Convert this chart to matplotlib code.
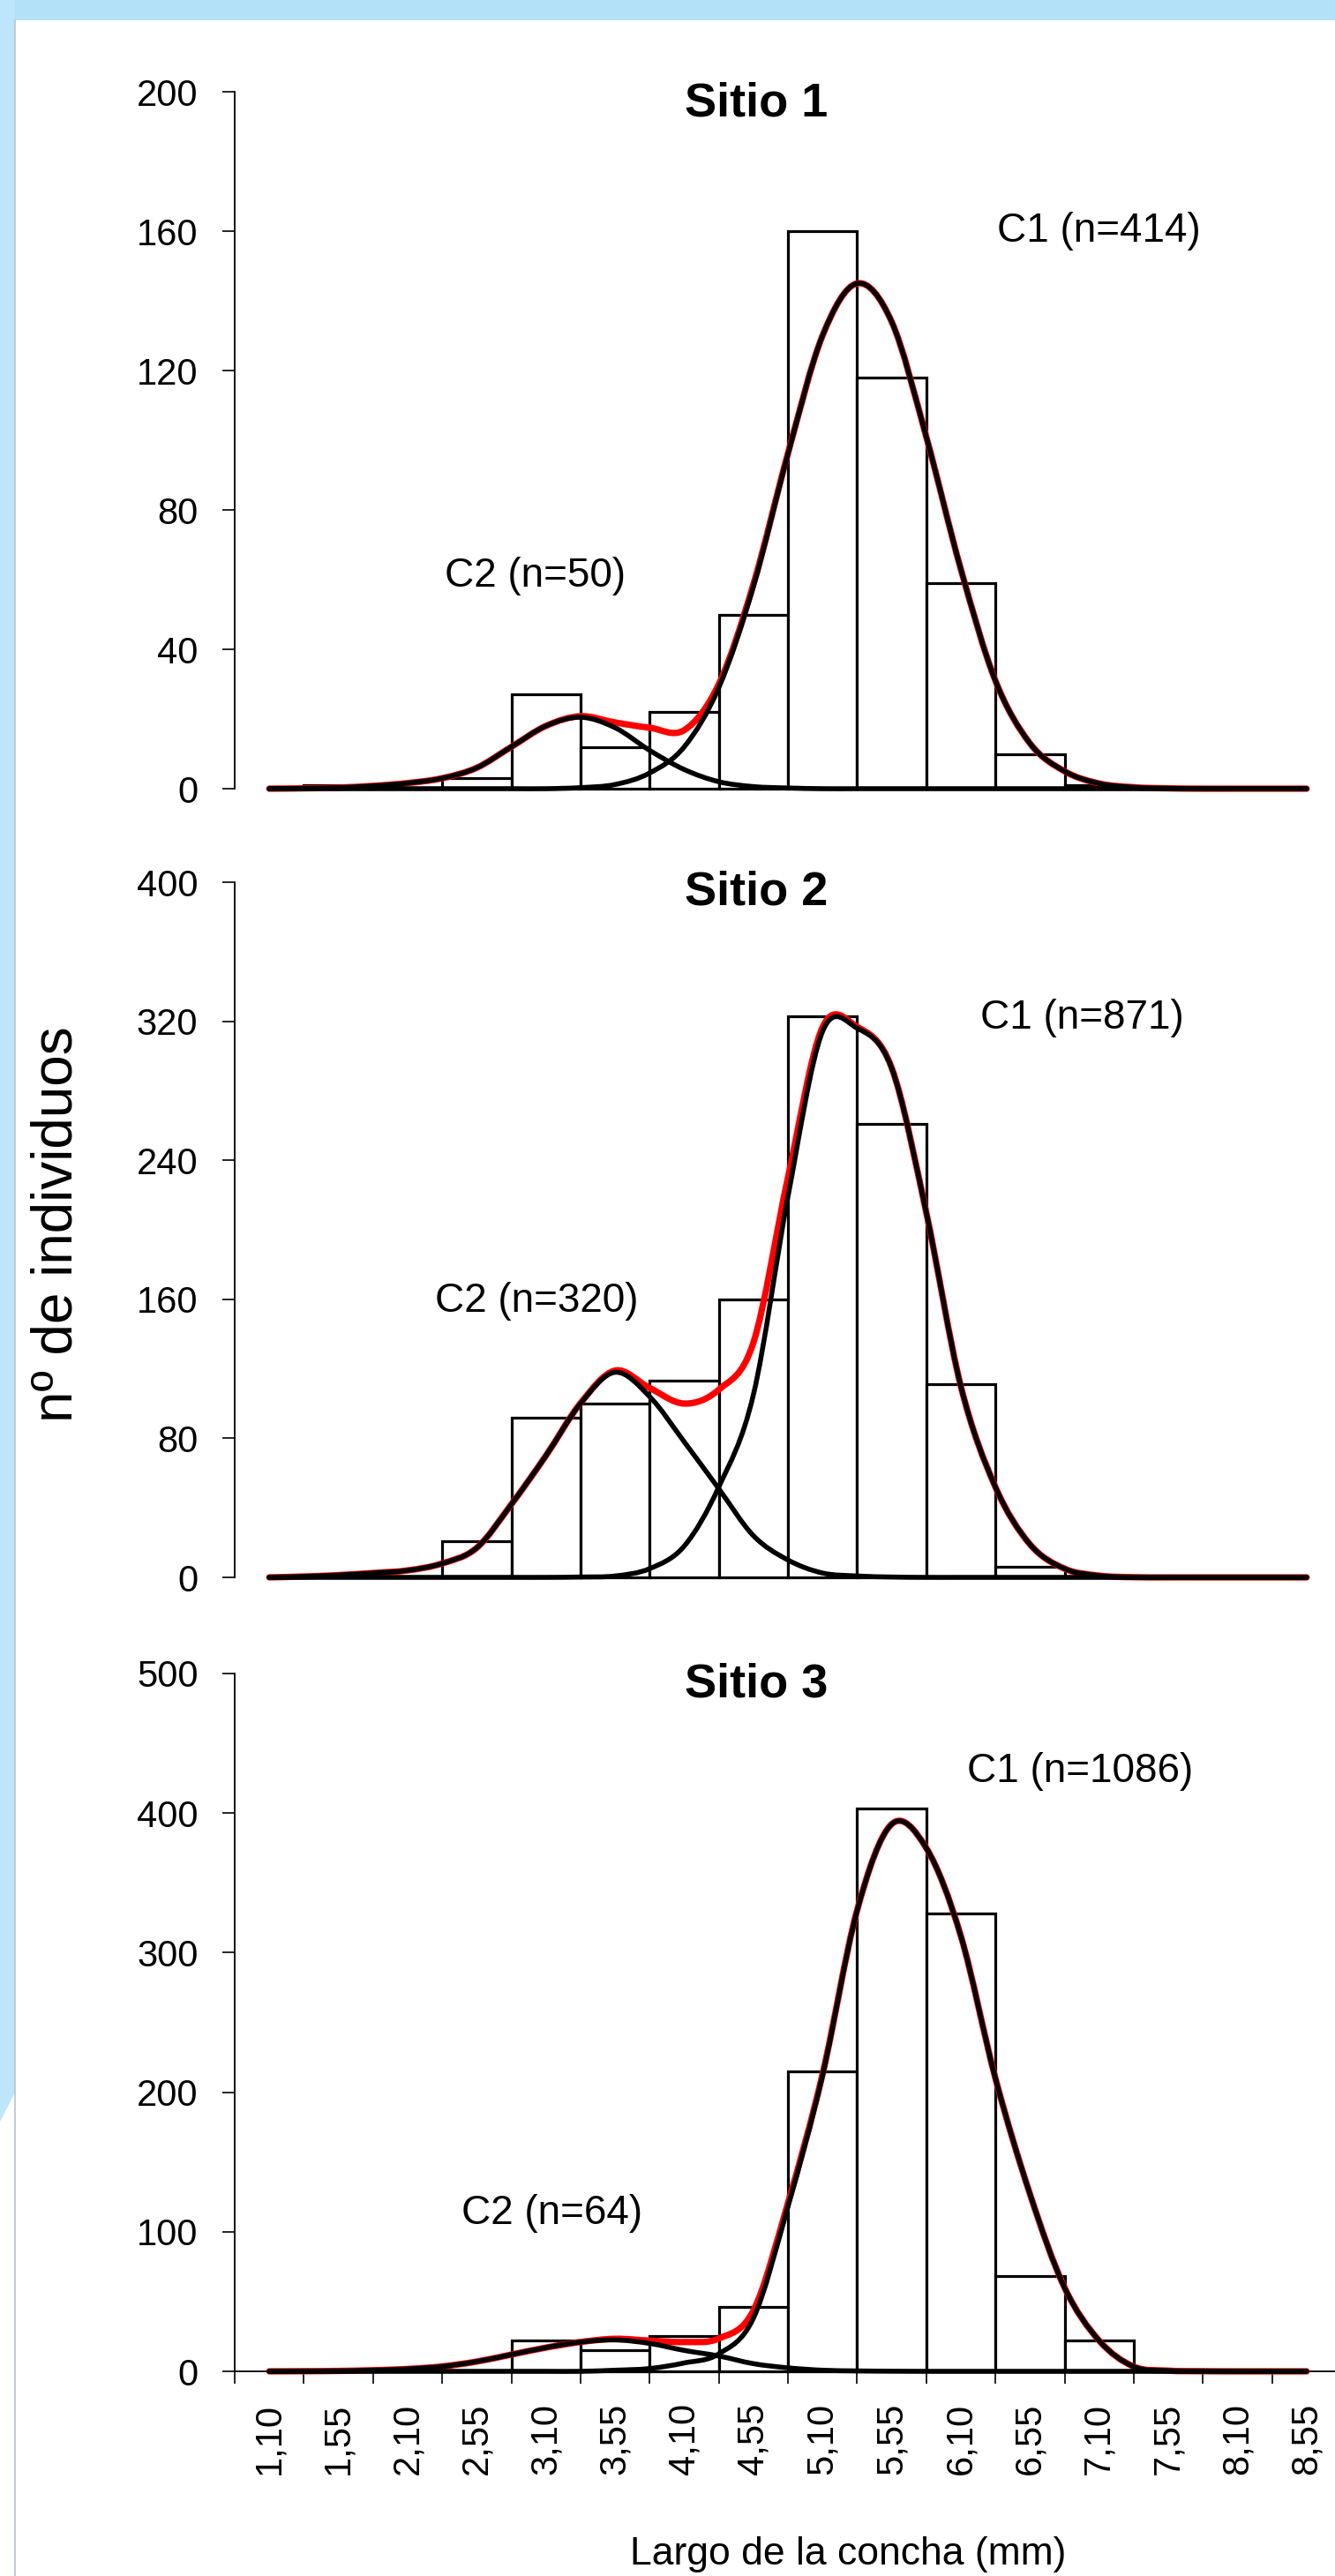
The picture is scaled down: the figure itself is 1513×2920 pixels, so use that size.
import numpy as np
import matplotlib
matplotlib.use("Agg")
import matplotlib.pyplot as plt
from matplotlib.path import Path
from matplotlib.patches import PathPatch, Polygon, Rectangle
from matplotlib.lines import Line2D

plt.rcParams['font.family'] = ['Liberation Sans', 'DejaVu Sans']

# length classes (mm)
size_labels = ['1,10', '1,55', '2,10', '2,55', '3,10', '3,55', '4,10', '4,55',
               '5,10', '5,55', '6,10', '6,55', '7,10', '7,55', '8,10', '8,55']

# fitted curves are read every half class, from the first class centre to the last

# Sitio 1
counts_s1 = [0, 1, 0, 3, 27, 12, 22, 50, 160, 118, 59, 10, 1, 0, 0, 0]
c1_s1 = [0, 0, 0, 0, 0, 0, 0, 0, 0, 0.3, 1.2, 4.5, 12, 29, 58, 96, 130, 145, 134, 101,
         63, 31, 13, 5, 1.5, 0.4, 0.1, 0, 0, 0, 0]
c2_s1 = [0, 0.1, 0.3, 0.8, 1.6, 3, 6, 12, 18, 20.5, 17.5, 11, 5.5, 2, 0.6, 0.2,
         0, 0, 0, 0, 0, 0, 0, 0, 0, 0, 0, 0, 0, 0, 0]
total_s1 = [0, 0.1, 0.3, 0.8, 1.6, 3, 6, 12, 18, 20.8, 19, 17.5, 16.8, 30, 58.6, 96.2,
            130, 145, 134, 101, 63, 31, 13, 5, 1.5, 0.4, 0.1, 0, 0, 0, 0]

# Sitio 2
counts_s2 = [0, 0, 0, 21, 92, 100, 113, 160, 323, 261, 111, 6, 0, 0, 0, 0]
c1_s2 = [0, 0, 0, 0, 0, 0, 0, 0, 0, 0.2, 0.8, 5, 18, 52, 105, 219, 314, 316, 293, 210,
         110, 52, 19, 5, 1, 0.1, 0, 0, 0, 0, 0]
c2_s2 = [0, 0.5, 1.3, 2.5, 4, 8, 17, 42, 70, 100, 118, 104, 78, 51, 24, 10, 2.5, 0.8,
         0.2, 0, 0, 0, 0, 0, 0, 0, 0, 0, 0, 0, 0]
total_s2 = [0, 0.5, 1.3, 2.5, 4, 8, 17, 42, 70, 100.2, 119, 109, 100, 108, 135, 230,
            316.5, 316.8, 293.2, 210, 110, 52, 19, 5, 1, 0.1, 0, 0, 0, 0, 0]

# Sitio 3
counts_s3 = [0, 0, 0, 0, 22, 15, 25, 46, 215, 403, 328, 68, 22, 1, 0, 0]
c1_s3 = [0, 0, 0, 0, 0, 0, 0, 0, 0, 0, 0.8, 2, 6, 12.5, 38, 118, 212, 330, 392, 375,
         312, 210, 127, 60, 22, 3.4, 0.5, 0.1, 0, 0, 0]
c2_s3 = [0, 0.1, 0.3, 0.8, 1.7, 3.5, 7, 12, 17, 21, 22.5, 20, 15, 11, 5.5, 2.5, 0.8,
         0.3, 0.1, 0, 0, 0, 0, 0, 0, 0, 0, 0, 0, 0, 0]
total_s3 = [0, 0.1, 0.3, 0.8, 1.7, 3.5, 7, 12, 17, 21, 23.3, 22, 21, 23.5, 43.5, 120.5,
            212.8, 330.3, 392.1, 375, 312, 210, 127, 60, 22, 3.4, 0.5, 0.1, 0, 0, 0]

W, H = 1513, 2920
fig = plt.figure(figsize=(W / 100, H / 100), dpi=100, facecolor='white')

# slide-like background decoration
fig.add_artist(Rectangle((0, 1 - 23 / H), 1, 23 / H, transform=fig.transFigure,
                         facecolor='#B3E1F8', edgecolor='none', zorder=0))
fig.add_artist(Polygon([(0, 1), (17 / W, 1), (17 / W, 1 - 2372 / H), (0, 1 - 2405 / H)],
                       closed=True, transform=fig.transFigure, facecolor='#BDE6FA',
                       edgecolor='none', zorder=0))
fig.add_artist(Line2D([16.5 / W, 16.5 / W], [0, 1 - 23 / H], transform=fig.transFigure,
                      color='#B8C4CC', lw=1.2, zorder=1))


def smooth_line(ax, xs, ys, color, lw, z):
    # Excel-style smoothed line: cubic Bezier through each point
    pts = np.column_stack([xs, ys]).astype(float)
    padded = np.vstack([pts[0], pts, pts[-1]])
    verts = [pts[0]]
    codes = [Path.MOVETO]
    for i in range(len(pts) - 1):
        p0, p1, p2, p3 = padded[i], padded[i + 1], padded[i + 2], padded[i + 3]
        verts += [p1 + (p2 - p0) / 6, p2 - (p3 - p1) / 6, p2]
        codes += [Path.CURVE4] * 3
    ax.add_patch(PathPatch(Path(verts, codes), fill=False, edgecolor=color, lw=lw,
                           zorder=z, clip_on=False, capstyle='round', joinstyle='round'))


def draw_panel(rect, counts, c1, c2, total, ymax, ystep, title, title_y,
               lab1, pos1, lab2, pos2, bottom):
    ax = fig.add_axes(rect)
    ax.set_facecolor('none')
    x = np.arange(len(size_labels))
    xc = np.arange(len(total)) / 2.0
    xs = [k for k in x if counts[k] > 0]
    ax.bar(xs, [counts[k] for k in xs], width=1.0, color='white', edgecolor='black',
           linewidth=2.3, zorder=2, clip_on=False)
    smooth_line(ax, xc, total, 'red', 5.2, 3)
    smooth_line(ax, xc, c2, 'black', 4.0, 4)
    smooth_line(ax, xc, c1, 'black', 4.0, 4)

    ax.set_xlim(-0.5, 15.5)
    ax.set_ylim(0, ymax)
    ax.set_yticks(np.arange(0, ymax + 1, ystep))
    ax.tick_params(axis='y', direction='out', length=10, width=1.2, pad=20, labelsize=30)
    for s in ['top', 'right']:
        ax.spines[s].set_visible(False)
    ax.spines['left'].set_linewidth(1.3)
    if bottom:
        ax.spines['bottom'].set_linewidth(1.3)
        ax.set_xticks(x)
        ax.set_xticklabels(size_labels, rotation=90, fontsize=30)
        ax.tick_params(axis='x', which='major', length=0, pad=26)
        ax.set_xticks(np.arange(-0.5, 16, 1), minor=True)
        ax.tick_params(axis='x', which='minor', direction='out', length=10, width=1.2)
    else:
        ax.spines['bottom'].set_visible(False)
        ax.set_xticks([])

    ax.text(7.04, title_y, title, fontsize=39, fontweight='bold', ha='center', va='center')
    ax.text(pos1[0], pos1[1], lab1, fontsize=33, ha='center', va='center')
    ax.text(pos2[0], pos2[1], lab2, fontsize=33, ha='center', va='center')
    return ax


left = 266 / W
width = (1520 - 266) / W
draw_panel([left, 1 - 894 / H, width, 790 / H], counts_s1, c1_s1, c2_s1, total_s1,
           200, 40, 'Sitio 1', 196.7, 'C1 (n=414)', (12.0, 160), 'C2 (n=50)', (3.85, 61), False)
draw_panel([left, 1 - 1788 / H, width, 788 / H], counts_s2, c1_s2, c2_s2, total_s2,
           400, 80, 'Sitio 2', 394, 'C1 (n=871)', (11.75, 322), 'C2 (n=320)', (3.87, 159), False)
draw_panel([left, 1 - 2688 / H, width, 791 / H], counts_s3, c1_s3, c2_s3, total_s3,
           500, 100, 'Sitio 3', 492, 'C1 (n=1086)', (11.72, 430), 'C2 (n=64)', (4.09, 113), True)

fig.text(65 / W, 1 - 1388 / H, 'nº de individuos', rotation=90, fontsize=46,
         ha='center', va='center')
fig.text(961 / W, 1 - 2895 / H, 'Largo de la concha (mm)', fontsize=32,
         ha='center', va='center')

fig.savefig('out.png', dpi=100, facecolor='white')
